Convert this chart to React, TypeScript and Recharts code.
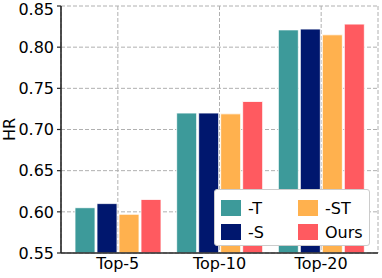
import React from 'react';
import { BarChart, Bar, XAxis, YAxis, CartesianGrid, Legend } from 'recharts';

const CATEGORIES = ['Top-5', 'Top-10', 'Top-20'];
const T_VALUES = [0.605, 0.72, 0.821];
const S_VALUES = [0.61, 0.72, 0.822];
const ST_VALUES = [0.597, 0.719, 0.815];
const OURS_VALUES = [0.615, 0.734, 0.828];
const Y_TICKS = [0.55, 0.6, 0.65, 0.7, 0.75, 0.8, 0.85];

const SERIES = [
  { key: 't', name: '-T', color: '#3d9a9a', values: T_VALUES },
  { key: 's', name: '-S', color: '#00176e', values: S_VALUES },
  { key: 'st', name: '-ST', color: '#ffb14e', values: ST_VALUES },
  { key: 'ours', name: 'Ours', color: '#ff5a60', values: OURS_VALUES },
];

const FONT = '"DejaVu Sans", sans-serif';
const AXIS_COLOR = '#262626';

const data = CATEGORIES.map((name, i) => {
  const row: any = { name };
  SERIES.forEach((s) => (row[s.key] = s.values[i]));
  return row;
});

// legend laid out like matplotlib ncol=2 (column-wise fill)
const LegendBox = () => {
  const cols = [
    [SERIES[0], SERIES[1]],
    [SERIES[2], SERIES[3]],
  ];
  return (
    <div
      style={{
        boxSizing: 'border-box',
        width: 156,
        height: 57,
        background: 'white',
        border: '1px solid #cccccc',
        borderRadius: 3,
        display: 'flex',
        padding: '6px 0 0 6px',
        fontFamily: FONT,
        fontSize: 16,
        color: 'black',
      }}
    >
      {cols.map((col, ci) => (
        <div key={ci} style={{ width: ci === 0 ? 77 : 70 }}>
          {col.map((s) => (
            <div key={s.key} style={{ display: 'flex', alignItems: 'center', height: 24 }}>
              <span
                style={{
                  display: 'inline-block',
                  width: 20,
                  height: 16,
                  background: s.color,
                  marginRight: 7,
                }}
              />
              <span>{s.name}</span>
            </div>
          ))}
        </div>
      ))}
    </div>
  );
};

const HRLabel = ({ viewBox }: any) => {
  const cy = viewBox ? viewBox.y + viewBox.height / 2 : 129.5;
  return (
    <text
      x={15}
      y={cy}
      transform={`rotate(-90, 15, ${cy})`}
      textAnchor="middle"
      fill="black"
      fontSize={16}
      fontFamily={FONT}
    >
      HR
    </text>
  );
};

export default function App() {
  return (
    <div style={{ position: 'absolute', left: 0, top: 0, width: 382, height: 278, background: 'white' }}>
      <BarChart
        width={382}
        height={278}
        data={data}
        margin={{ top: 6, right: 4, bottom: 0, left: 0 }}
        barSize={20}
        barGap={2}
      >
        <CartesianGrid stroke="#b0b0b0" strokeDasharray="4 2" />
        <XAxis
          dataKey="name"
          height={25}
          padding={{ left: 6, right: 6 }}
          tickLine={false}
          tickSize={0}
          tickMargin={5}
          axisLine={{ stroke: AXIS_COLOR, strokeWidth: 1.6 }}
          tick={{ fill: 'black', fontSize: 16, fontFamily: FONT }}
        />
        <XAxis
          xAxisId="top"
          orientation="top"
          dataKey="name"
          height={0}
          tick={false}
          tickLine={false}
          padding={{ left: 6, right: 6 }}
          axisLine={{ stroke: AXIS_COLOR, strokeWidth: 1.6 }}
        />
        <YAxis
          width={61}
          domain={[0.55, 0.85]}
          ticks={Y_TICKS}
          allowDataOverflow
          tickSize={4}
          tickMargin={3}
          tickFormatter={(v: number) => v.toFixed(2)}
          tickLine={{ stroke: AXIS_COLOR, strokeWidth: 1.2 }}
          axisLine={{ stroke: AXIS_COLOR, strokeWidth: 1.6 }}
          tick={{ fill: 'black', fontSize: 16, fontFamily: FONT }}
          label={<HRLabel />}
        />
        <YAxis
          yAxisId="right"
          orientation="right"
          width={0}
          domain={[0.55, 0.85]}
          tick={false}
          tickLine={false}
          axisLine={{ stroke: AXIS_COLOR, strokeWidth: 1.6 }}
        />
        <Legend
          layout="horizontal"
          verticalAlign="middle"
          align="center"
          wrapperStyle={{ left: 214, top: 189, width: 156, height: 57 }}
          content={<LegendBox />}
        />
        {SERIES.map((s) => (
          <Bar
            key={s.key}
            dataKey={s.key}
            name={s.name}
            fill={s.color}
            stroke="white"
            strokeWidth={0.8}
            isAnimationActive={false}
          />
        ))}
      </BarChart>
    </div>
  );
}
